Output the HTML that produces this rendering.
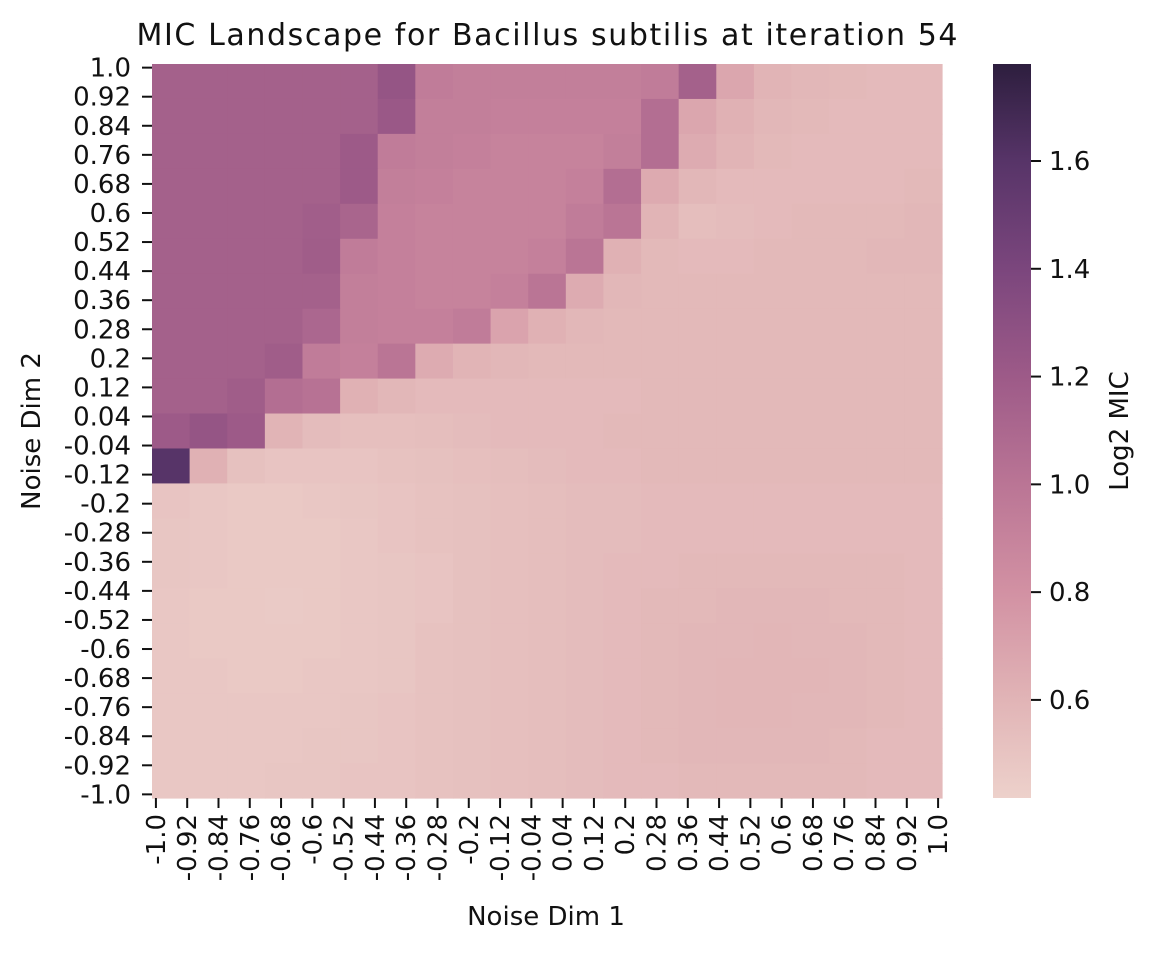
<!DOCTYPE html>
<html><head><meta charset="utf-8"><style>
body{margin:0;background:#fff;}
svg text{font-family:"DejaVu Sans","Liberation Sans",sans-serif;fill:#111;}
</style></head><body>
<svg id="chart" width="1153" height="952" viewBox="0 0 1153 952" xmlns="http://www.w3.org/2000/svg">
<text x="547" y="45" font-size="30" text-anchor="middle" textLength="821" lengthAdjust="spacing">MIC Landscape for Bacillus subtilis at iteration 54</text>
<g id="cells"></g>
<g id="yticks"></g>
<g id="xticks"></g>
<text x="546" y="925" font-size="26" text-anchor="middle">Noise Dim 1</text>
<text transform="translate(40,431) rotate(-90)" font-size="26" text-anchor="middle">Noise Dim 2</text>
<defs><linearGradient id="cbg" x1="0" y1="1" x2="0" y2="0"></linearGradient></defs>
<rect x="993" y="64" width="38" height="734" fill="url(#cbg)"/>
<g id="cbticks"></g>
<text transform="translate(1128,431) rotate(-90)" font-size="26" text-anchor="middle">Log2 MIC</text>
</svg>
<script>
// grid columns x = -1.0..1.0 step 0.1, rows y = 1.0 .. -1.0 step 0.1
const gridX = [-1,-0.9,-0.8,-0.7,-0.6,-0.5,-0.4,-0.3,-0.2,-0.1,0,0.1,0.2,0.3,0.4,0.5,0.6,0.7,0.8,0.9,1];
const gridY = [1,0.9,0.8,0.7,0.6,0.5,0.4,0.3,0.2,0.1,0,-0.1,-0.2,-0.3,-0.4,-0.5,-0.6,-0.7,-0.8,-0.9,-1];
const values = [
[1.15,1.15,1.15,1.15,1.15,1.15,1.25,0.95,0.93,0.93,0.93,0.93,0.93,0.95,1.15,0.68,0.6,0.58,0.57,0.56,0.56],
[1.15,1.15,1.15,1.15,1.15,1.15,1.22,0.93,0.93,0.92,0.92,0.92,0.92,1.05,0.68,0.62,0.58,0.57,0.56,0.56,0.56],
[1.15,1.15,1.15,1.15,1.15,1.2,0.95,0.93,0.92,0.9,0.9,0.9,0.93,1.05,0.65,0.6,0.57,0.56,0.56,0.56,0.56],
[1.15,1.15,1.15,1.15,1.15,1.2,0.93,0.92,0.9,0.9,0.9,0.92,1.05,0.66,0.58,0.56,0.56,0.56,0.56,0.56,0.57],
[1.15,1.15,1.15,1.15,1.17,1.12,0.92,0.9,0.9,0.9,0.9,0.95,1.0,0.6,0.54,0.55,0.56,0.57,0.57,0.57,0.58],
[1.15,1.15,1.15,1.15,1.18,0.95,0.92,0.9,0.9,0.9,0.92,1.0,0.62,0.57,0.56,0.56,0.57,0.57,0.57,0.58,0.58],
[1.15,1.15,1.15,1.15,1.15,0.93,0.92,0.9,0.9,0.92,1.0,0.65,0.58,0.57,0.57,0.57,0.57,0.57,0.57,0.57,0.57],
[1.15,1.15,1.15,1.15,1.1,0.93,0.92,0.92,0.95,0.7,0.62,0.58,0.57,0.57,0.57,0.57,0.57,0.57,0.57,0.57,0.57],
[1.15,1.15,1.15,1.18,0.95,0.92,1.0,0.65,0.6,0.58,0.57,0.57,0.57,0.57,0.57,0.57,0.57,0.57,0.57,0.57,0.57],
[1.15,1.15,1.18,1.05,1.02,0.62,0.58,0.56,0.56,0.56,0.56,0.56,0.56,0.57,0.57,0.57,0.57,0.57,0.57,0.57,0.57],
[1.2,1.25,1.2,0.6,0.55,0.53,0.53,0.54,0.55,0.56,0.56,0.56,0.57,0.57,0.57,0.57,0.57,0.57,0.57,0.57,0.57],
[1.6,0.62,0.52,0.5,0.5,0.5,0.51,0.52,0.53,0.54,0.55,0.56,0.56,0.57,0.57,0.57,0.57,0.57,0.57,0.57,0.57],
[0.5,0.48,0.47,0.47,0.48,0.49,0.5,0.51,0.52,0.53,0.54,0.55,0.55,0.56,0.56,0.56,0.56,0.56,0.56,0.56,0.56],
[0.49,0.48,0.47,0.47,0.47,0.48,0.5,0.51,0.52,0.53,0.54,0.55,0.55,0.56,0.56,0.56,0.56,0.56,0.56,0.56,0.56],
[0.49,0.48,0.47,0.47,0.47,0.48,0.49,0.5,0.52,0.53,0.54,0.55,0.56,0.56,0.57,0.57,0.57,0.57,0.57,0.57,0.56],
[0.48,0.47,0.47,0.46,0.47,0.48,0.49,0.5,0.52,0.53,0.54,0.55,0.56,0.57,0.57,0.58,0.58,0.58,0.57,0.57,0.56],
[0.48,0.47,0.47,0.47,0.47,0.48,0.49,0.51,0.52,0.53,0.54,0.55,0.56,0.57,0.58,0.58,0.59,0.58,0.58,0.57,0.56],
[0.48,0.48,0.47,0.47,0.48,0.48,0.49,0.51,0.52,0.53,0.54,0.55,0.56,0.57,0.58,0.59,0.59,0.59,0.58,0.57,0.56],
[0.48,0.48,0.48,0.48,0.48,0.49,0.5,0.51,0.52,0.53,0.54,0.55,0.56,0.57,0.58,0.59,0.59,0.58,0.58,0.57,0.56],
[0.48,0.48,0.48,0.48,0.49,0.49,0.5,0.51,0.52,0.53,0.54,0.55,0.56,0.57,0.58,0.58,0.58,0.58,0.57,0.56,0.56],
[0.48,0.48,0.48,0.49,0.49,0.5,0.5,0.51,0.52,0.53,0.54,0.55,0.56,0.56,0.57,0.57,0.57,0.57,0.57,0.56,0.56]
];
const tickLabels = ["-1.0","-0.92","-0.84","-0.76","-0.68","-0.6","-0.52","-0.44","-0.36","-0.28","-0.2","-0.12","-0.04","0.04","0.12","0.2","0.28","0.36","0.44","0.52","0.6","0.68","0.76","0.84","0.92","1.0"];
const cbTicks = [0.6,0.8,1.0,1.2,1.4,1.6];
const vmin = 0.418, vmax = 1.78;

const NS = "http://www.w3.org/2000/svg";
const px0 = 152, px1 = 942, py0 = 64, py1 = 798;
const cmapStops = [[0.418,[237,209,203]],[0.6,[225,180,182]],[0.8,[210,145,163]],[1.0,[186,117,149]],[1.2,[157,90,136]],[1.4,[123,70,125]],[1.6,[87,52,104]],[1.78,[45,30,62]]];
function cmap(v){
  v=Math.max(vmin,Math.min(vmax,v));
  for(let i=0;i<cmapStops.length-1;i++){const a=cmapStops[i],b=cmapStops[i+1];
    if(v<=b[0]){const t=(v-a[0])/(b[0]-a[0]);return 'rgb('+a[1].map((c,k)=>Math.round(c+(b[1][k]-c)*t)).join(',')+')';}}
  return 'rgb(45,30,62)';
}
const cw = (px1-px0)/gridX.length, ch = (py1-py0)/gridY.length;
const cells = document.getElementById('cells');
gridY.forEach((yv,r)=>gridX.forEach((xv,c)=>{
  const rect=document.createElementNS(NS,'rect');
  const cx = px0 + c*cw, cy = py0 + r*ch;
  rect.setAttribute('x',cx.toFixed(2));rect.setAttribute('y',cy.toFixed(2));
  rect.setAttribute('width',(cw+0.6).toFixed(2));rect.setAttribute('height',(ch+0.6).toFixed(2));
  rect.setAttribute('fill',cmap(values[r][c]));
  
  
  cells.appendChild(rect);
}));
const sub = (px1-px0)/101, subY=(py1-py0)/101;
const xt=document.getElementById('xticks'), yt=document.getElementById('yticks');
tickLabels.forEach((lab,i)=>{
  const x = px0 + (4*i+0.5)*sub;
  const l=document.createElementNS(NS,'line');
  l.setAttribute('x1',x);l.setAttribute('x2',x);l.setAttribute('y1',py1);l.setAttribute('y2',py1+10);
  l.setAttribute('stroke','#111');l.setAttribute('stroke-width','2');
  
  
  xt.appendChild(l);
  const t=document.createElementNS(NS,'text');
  t.setAttribute('transform','translate('+(x+9)+','+(py1+16)+') rotate(-90)');
  t.setAttribute('text-anchor','end');t.setAttribute('font-size','26');
  t.textContent=lab;
  
  
  xt.appendChild(t);
  const yLab = tickLabels[tickLabels.length-1-i];
  const y = py0 + (4*i+0.5)*subY;
  const l2=document.createElementNS(NS,'line');
  l2.setAttribute('x1',px0-10);l2.setAttribute('x2',px0);l2.setAttribute('y1',y);l2.setAttribute('y2',y);
  l2.setAttribute('stroke','#111');l2.setAttribute('stroke-width','2');
  
  
  yt.appendChild(l2);
  const t2=document.createElementNS(NS,'text');
  t2.setAttribute('x',px0-21);t2.setAttribute('y',y+9);
  t2.setAttribute('text-anchor','end');t2.setAttribute('font-size','26');
  t2.textContent=yLab;
  
  
  yt.appendChild(t2);
});
const grad=document.getElementById('cbg');
cmapStops.forEach(s=>{const st=document.createElementNS(NS,'stop');
  st.setAttribute('offset',((s[0]-vmin)/(vmax-vmin)).toFixed(4));
  st.setAttribute('stop-color','rgb('+s[1].join(',')+')');grad.appendChild(st);});
const cbScale = v => 798 - (v-vmin)/(vmax-vmin)*734;
const cbg=document.getElementById('cbticks');
cbTicks.forEach(v=>{
  const y=cbScale(v);
  const l=document.createElementNS(NS,'line');
  l.setAttribute('x1',1031);l.setAttribute('x2',1041);l.setAttribute('y1',y);l.setAttribute('y2',y);
  l.setAttribute('stroke','#111');l.setAttribute('stroke-width','2');
  
  
  cbg.appendChild(l);
  const t=document.createElementNS(NS,'text');
  t.setAttribute('x',1049);t.setAttribute('y',y+9);t.setAttribute('font-size','26');
  t.textContent=v.toFixed(1);
  
  
  cbg.appendChild(t);
});
</script>
</body></html>
